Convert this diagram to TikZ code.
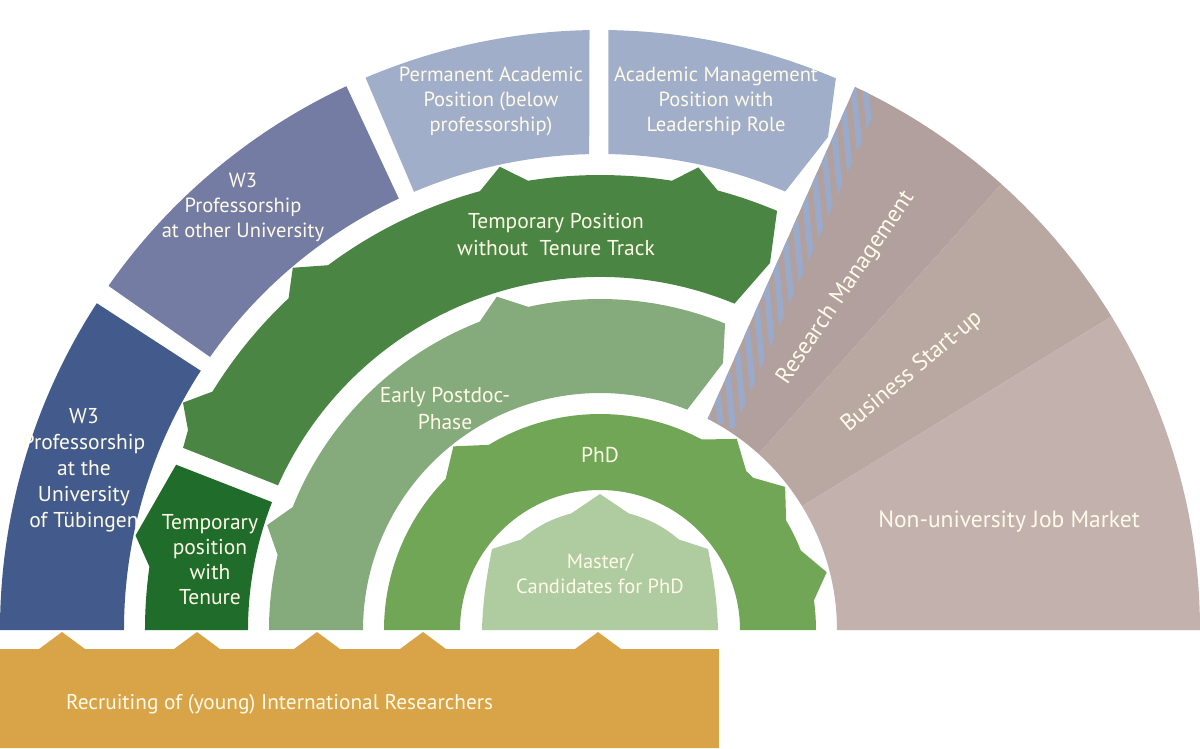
\documentclass[tikz,border=0pt]{standalone}
\usepackage{fontspec}
\setmainfont{PT Sans}
\usetikzlibrary{calc}

\begin{document}
\begin{tikzpicture}[x=1pt, y=1pt,
    txt/.style={text=txtcolor, align=center, inner sep=0pt, font=\fontsize{20.5}{25}\selectfont},
    bigtxt/.style={txt, font=\fontsize{21.5}{27}\selectfont},
    sectortxt/.style={txt, font=\fontsize{23.5}{28}\selectfont},
    stripe/.style={draw=stripecolor, line width=6pt}]

    % Define colors
    \definecolor{tuebcolor}{RGB}{66,91,140}
    \definecolor{othercolor}{RGB}{116,124,164}
    \definecolor{permcolor}{RGB}{161,174,201}
    \definecolor{notenurecolor}{RGB}{75,133,68}
    \definecolor{tenurecolor}{RGB}{31,108,43}
    \definecolor{postdoccolor}{RGB}{133,170,124}
    \definecolor{phdcolor}{RGB}{112,166,86}
    \definecolor{mastercolor}{RGB}{175,203,160}
    \definecolor{rmcolor}{RGB}{178,160,158}
    \definecolor{bscolor}{RGB}{185,168,162}
    \definecolor{nucolor}{RGB}{195,177,174}
    \definecolor{recruitcolor}{RGB}{217,164,71}
    \definecolor{stripecolor}{RGB}{154,170,203}
    \definecolor{txtcolor}{RGB}{255,251,232}

    \useasboundingbox (-600,-118) rectangle (600,630);

    % Outer ring
    \fill[tuebcolor] (180:600) arc[start angle=180, end angle=147, radius=600] -- (147:476) arc[start angle=147, end angle=180, radius=476] -- cycle;
    \fill[othercolor] (145:600) arc[start angle=145, end angle=115, radius=600] -- (115:476) arc[start angle=115, end angle=145, radius=476] -- cycle;
    \fill[permcolor] (113:600) arc[start angle=113, end angle=91, radius=600] -- (91.3:476) arc[start angle=91.3, end angle=113, radius=476] -- cycle;
    \fill[permcolor] (89.2:600) arc[start angle=89.2, end angle=66.85, radius=600] -- (228,493) -- (67.1:476) arc[start angle=67.1, end angle=89, radius=476] -- cycle;

    % Non-university sectors
    \fill[rmcolor] (64.85:600) arc[start angle=64.85, end angle=48, radius=600] -- (48:237) arc[start angle=48, end angle=63, radius=237] -- cycle;
    \fill[bscolor] (48:600) arc[start angle=48, end angle=31.5, radius=600] -- (31.5:237) arc[start angle=31.5, end angle=48, radius=237] -- cycle;
    \fill[nucolor] (31.5:600) arc[start angle=31.5, end angle=0, radius=600] -- (0:237) arc[start angle=0, end angle=31.5, radius=237] -- cycle;

    % Hatching along the research management edge
    \coordinate (rmlow) at (108,212);
    \coordinate (rmhigh) at (255,543);
    \begin{scope}
        \clip (64.85:600) arc[start angle=64.85, end angle=48, radius=600] -- (48:237) arc[start angle=48, end angle=63, radius=237] -- cycle;
        \clip (rmlow) -- (rmhigh) -- ($(rmhigh)+(-24:28)$) -- ($(rmlow)+(-24:28)$) -- cycle;
        \foreach \f in {0,0.066,...,1.1}
            \draw[stripe] ($(rmlow)!\f!(rmhigh)+(276:60)$) -- ($(rmlow)!\f!(rmhigh)+(96:60)$);
    \end{scope}

    % Temporary position without tenure track
    \fill[notenurecolor] (155.8:353) -- (156.4:455) -- (154.1:458) -- (151.4:475) -- (148.4:455)
        arc[start angle=148.4, end angle=133.2, radius=455] -- (130.3:475) -- (126.7:455)
        arc[start angle=126.7, end angle=105.3, radius=455] -- (102.2:474) -- (99.1:455)
        arc[start angle=99.1, end angle=80.9, radius=455] -- (78:473) -- (75:455)
        arc[start angle=75, end angle=67.1, radius=455] -- (170,367) -- (67.6:353)
        arc[start angle=67.6, end angle=155.8, radius=353] -- cycle;

    % Temporary position with tenure
    \fill[tenurecolor] (180:455) arc[start angle=180, end angle=172, radius=455] -- (168.5:474) -- (158.7:455) -- (158.7:352)
        arc[start angle=158.7, end angle=180, radius=352] -- cycle;

    % Early postdoc phase
    \fill[postdoccolor] (180:331) arc[start angle=180, end angle=166.9, radius=331] -- (162.5:349) -- (158.2:331)
        arc[start angle=158.2, end angle=111.3, radius=331] -- (107.2:349) -- (102.5:331)
        arc[start angle=102.5, end angle=67.8, radius=331] -- (123,267) -- (68.4:237)
        arc[start angle=68.4, end angle=180, radius=237] -- cycle;

    % PhD
    \fill[phdcolor] (180:216) arc[start angle=180, end angle=135.6, radius=216] -- (128.6:235) -- (121:216)
        arc[start angle=121, end angle=61.9, radius=216] -- (54.4:235) -- (47.4:216)
        arc[start angle=47.4, end angle=44.8, radius=216] -- (37.7:234) -- (30.5:216)
        arc[start angle=30.5, end angle=21.6, radius=216] -- (14.3:234) -- (7.9:216)
        arc[start angle=7.9, end angle=0, radius=216] -- (0:140)
        arc[start angle=0, end angle=180, radius=140] -- cycle;

    % Master
    \fill[mastercolor] (-118,0) .. controls (-117,35) and (-112,60) .. (-108,81) -- (131:120)
        arc[start angle=131, end angle=104, radius=120] -- (90:136) -- (76:120)
        arc[start angle=76, end angle=49, radius=120] -- (108,81) .. controls (112,60) and (117,35) .. (118,0) -- cycle;

    % Recruiting band
    \fill[recruitcolor] (-600,-118) -- (-600,-19)
        \foreach \t in {-538,-403,-283,-177,-2} { -- (\t-23,-19) -- (\t,-2) -- (\t+23,-19) }
        -- (119,-19) -- (119,-118) -- cycle;

    % Nodes
    \node[txt] (perm) at (-109,529) {Permanent Academic\\Position (below\\professorship)};
    \node[txt] (mgmt) at (116,529) {Academic Management\\Position with\\Leadership Role};
    \node[txt] (other) at (-357,423) {W3\\Professorship\\at other University};
    \node[bigtxt, font=\fontsize{21.5}{26}\selectfont] (tueb) at (-516,160) {W3\\Professorship\\at the\\University\\of Tübingen};
    \node[bigtxt] (notenure) at (-44,395) {Temporary Position\\without~~Tenure Track};
    \node[bigtxt, font=\fontsize{21.5}{25}\selectfont] (tenure) at (-390,70) {Temporary\\position\\with\\Tenure};
    \node[bigtxt] (postdoc) at (-155,221) {Early Postdoc-\\Phase};
    \node[bigtxt] (phd) at (0,175) {PhD};
    \node[txt] (master) at (0,56) {Master/\\Candidates for PhD};
    \node[sectortxt, rotate=56] (resmgmt) at (246,342) {Research Management};
    \node[sectortxt, rotate=40] (startup) at (312,258) {Business Start-up};
    \node[sectortxt] (jobmarket) at (409,108) {Non-university Job Market};
    \node[txt, anchor=base west, font=\fontsize{21.3}{25}\selectfont] (recruit) at (-534,-79) {Recruiting of (young) International Researchers};

\end{tikzpicture}
\end{document}
